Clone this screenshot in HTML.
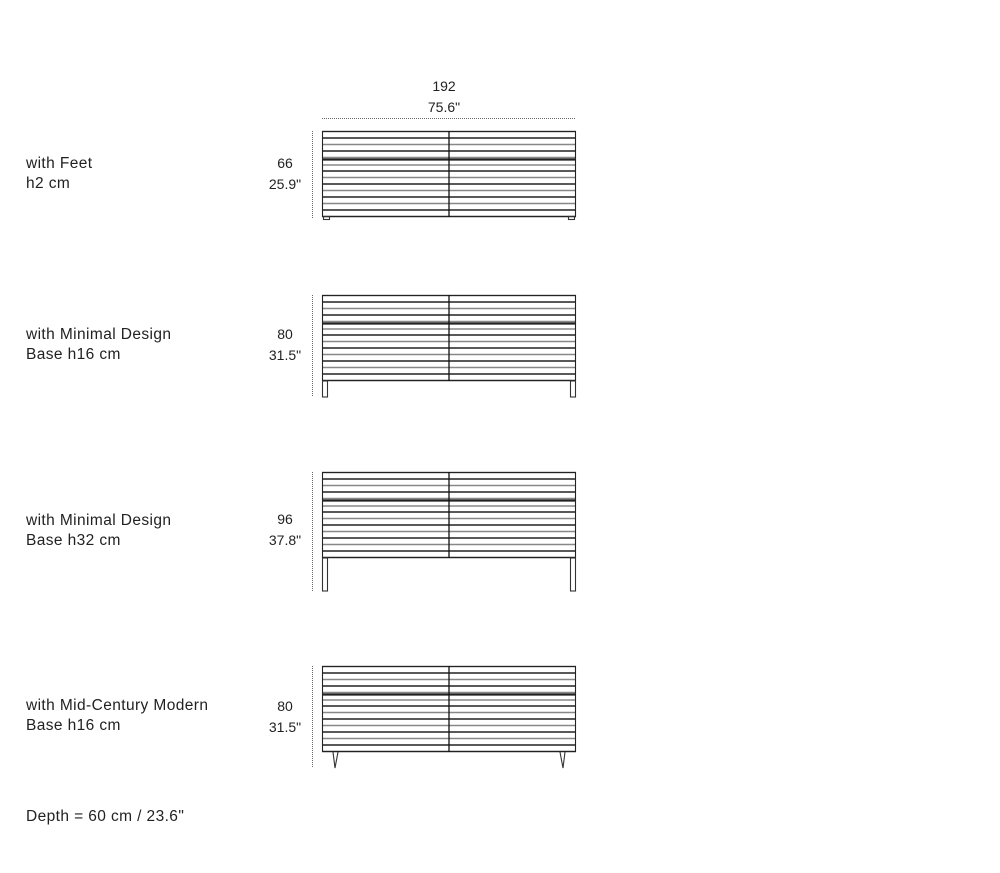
<!DOCTYPE html>
<html><head><style>
body{margin:0;background:#fff;width:1000px;height:873px;overflow:hidden;font-family:"Liberation Sans",sans-serif;color:#222}
.t{position:absolute;font-size:15.5px;line-height:20px;white-space:nowrap;letter-spacing:0.4px}
.c{position:absolute;font-size:14px;line-height:21px;text-align:center;width:60px}
</style></head><body>
<svg width="1000" height="873" style="position:absolute;left:0;top:0">
<defs>
<g id="cab">
<g stroke-width="1.4">
<line x1="0" x2="254" y1="0.5" y2="0.5" stroke="#888"/>
<line x1="0" x2="254" y1="7" y2="7" stroke="#222"/>
<line x1="0" x2="254" y1="13.5" y2="13.5" stroke="#888"/>
<line x1="0" x2="254" y1="20" y2="20" stroke="#222"/>
<line x1="0" x2="254" y1="26.5" y2="26.5" stroke="#888"/>
<line x1="0" x2="254" y1="28.5" y2="28.5" stroke="#222" stroke-width="2.2"/>
<line x1="0" x2="254" y1="34" y2="34" stroke="#888"/>
<line x1="0" x2="254" y1="40" y2="40" stroke="#222"/>
<line x1="0" x2="254" y1="46.5" y2="46.5" stroke="#888"/>
<line x1="0" x2="254" y1="53" y2="53" stroke="#222"/>
<line x1="0" x2="254" y1="59.5" y2="59.5" stroke="#888"/>
<line x1="0" x2="254" y1="66" y2="66" stroke="#222"/>
<line x1="0" x2="254" y1="72.5" y2="72.5" stroke="#888"/>
<line x1="0" x2="254" y1="79" y2="79" stroke="#222"/>
<line x1="0" x2="254" y1="85.5" y2="85.5" stroke="#444"/>
</g>
<rect x="0.5" y="0.5" width="253" height="85" fill="none" stroke="#222" stroke-width="1.1"/>
<line x1="127" x2="127" y1="0" y2="86" stroke="#111" stroke-width="1.3"/>
</g>
</defs>
<line x1="322" x2="576" y1="118.5" y2="118.5" stroke="#666" stroke-dasharray="1,1"/>
<g stroke="#666" stroke-dasharray="1,1">
<line x1="312.5" x2="312.5" y1="131" y2="219"/>
<line x1="312.5" x2="312.5" y1="295" y2="397"/>
<line x1="312.5" x2="312.5" y1="472" y2="591"/>
<line x1="312.5" x2="312.5" y1="666" y2="768"/>
</g>
<use href="#cab" x="322" y="131"/>
<use href="#cab" x="322" y="295"/>
<use href="#cab" x="322" y="472"/>
<use href="#cab" x="322" y="666"/>
<g fill="none" stroke="#333" stroke-width="1.1">
<rect x="323.5" y="216.5" width="6" height="3"/>
<rect x="568.5" y="216.5" width="6" height="3"/>
<rect x="322.5" y="381" width="5" height="16"/>
<rect x="570.5" y="381" width="5" height="16"/>
<rect x="322.5" y="558" width="5" height="33"/>
<rect x="570.5" y="558" width="5" height="33"/>
<path d="M333 752 L335 768 L338 752"/>
<path d="M560 752 L563 768 L565 752"/>
</g>
</svg>
<div class="c" style="left:414px;top:76px">192<br>75.6"</div>
<div class="c" style="left:255px;top:153px">66<br>25.9"</div>
<div class="c" style="left:255px;top:324px">80<br>31.5"</div>
<div class="c" style="left:255px;top:509px">96<br>37.8"</div>
<div class="c" style="left:255px;top:696px">80<br>31.5"</div>
<div class="t" style="left:26px;top:154px">with Feet<br>h2 cm</div>
<div class="t" style="left:26px;top:325px">with Minimal Design<br>Base h16 cm</div>
<div class="t" style="left:26px;top:511px">with Minimal Design<br>Base h32 cm</div>
<div class="t" style="left:26px;top:696px">with Mid-Century Modern<br>Base h16 cm</div>
<div class="t" style="left:26px;top:807px">Depth = 60 cm / 23.6"</div>
</body></html>
